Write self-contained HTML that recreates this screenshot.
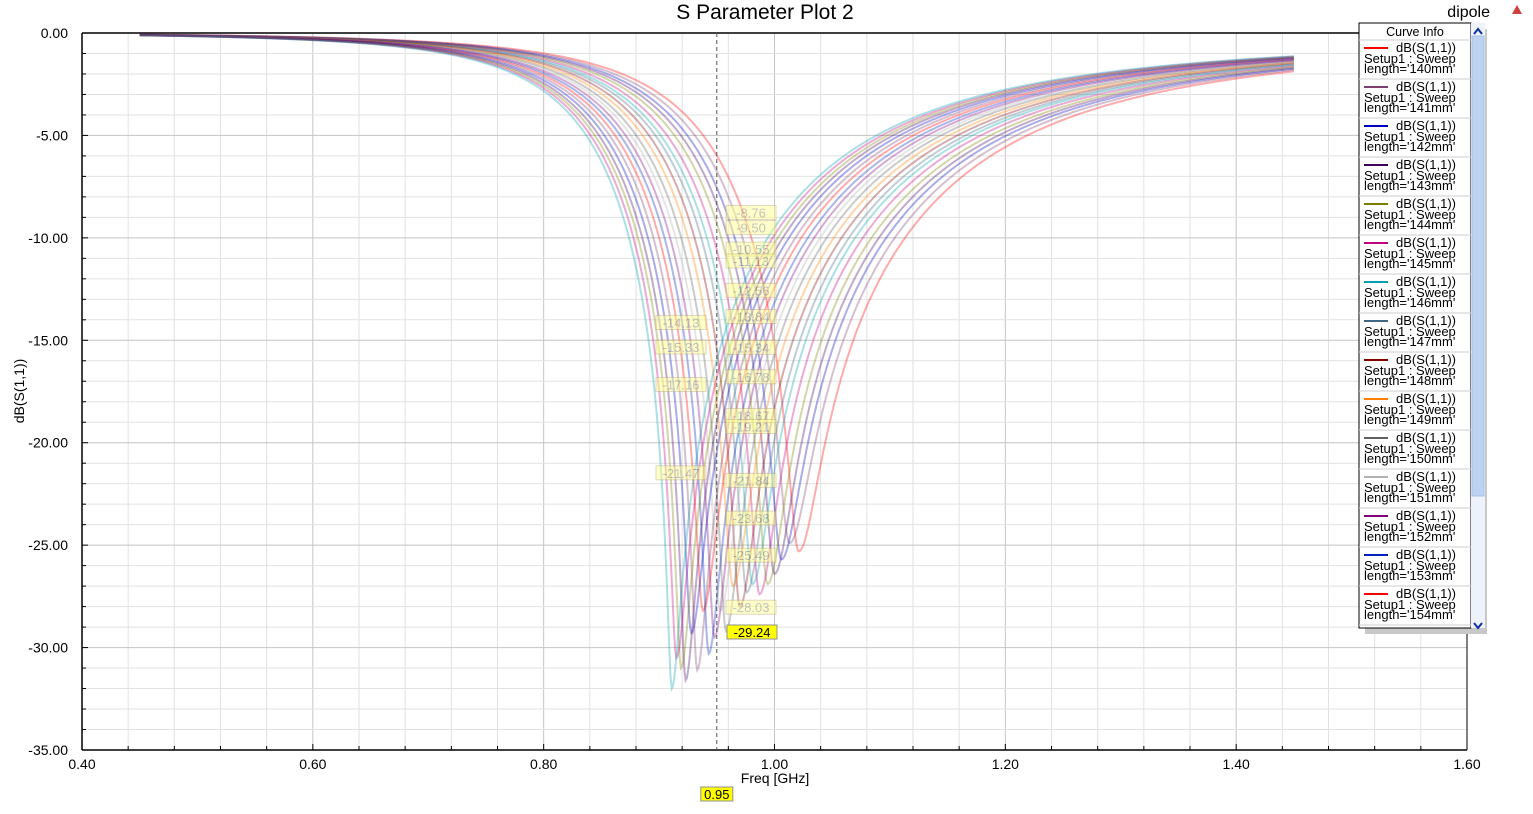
<!DOCTYPE html>
<html><head><meta charset="utf-8">
<style>
html,body{margin:0;padding:0;background:#fff;}
body{width:1533px;height:809px;overflow:hidden;font-family:"Liberation Sans",Arial,sans-serif;}
svg text{font-family:"Liberation Sans",Arial,sans-serif;}
</style></head>
<body>
<svg id="chart" width="1533" height="809" xmlns="http://www.w3.org/2000/svg">
<g id="grid"></g>
<g id="axes"></g>
<g id="curves"></g>
<g id="markers"></g>
<g id="legend"></g>
</svg>
<script>
// ---- data ----
const lengths = [140,141,142,143,144,145,146,147,148,149,150,151,152,153,154,155,156,157,158,159,160];
const resFreq = [1.021,1.013,1.006,1.000,0.994,0.987,0.981,0.976,0.970,0.964,0.958,0.953,0.948,0.943,0.938,0.933,0.928,0.923,0.919,0.915,0.911];
const minDb   = [-25.3,-24.9,-25.7,-26.4,-26.9,-27.4,-26.9,-27.3,-28.0,-27.0,-29.2,-28.2,-29.5,-30.3,-28.2,-31.1,-29.3,-31.6,-31.0,-30.5,-32.0];
const curveColors = ["#ff0000","#7f3f6f","#0000c0","#400060","#808000","#c00080","#00a0b0","#406880","#800000","#ff8000","#606060","#b0b0b0","#800080","#0020c0","#ff0000","#7f3f6f","#0000c0","#400060","#808000","#c00080","#00a0b0"];
const xTicks = [0.40,0.60,0.80,1.00,1.20,1.40,1.60];
const yTicks = [0,-5,-10,-15,-20,-25,-30,-35];
const markerRight = [-8.76,-9.50,-10.55,-11.13,-12.56,-13.84,-15.34,-16.78,-18.67,-19.21,-21.84,-23.68,-25.49,-28.03];
const markerLeft = [-14.13,-15.33,-17.16,-21.47];
const activeMarker = -29.24;
const markerFreq = 0.95;
const legendLengths = [140,141,142,143,144,145,146,147,148,149,150,151,152,153,154];

// ---- axes ----
const X0=82,X1=1467,Y0=33,Y1=750;
const xs = f => X0 + (f-0.4)/(1.2)*(X1-X0);
const ys = v => Y0 + (-v)/35*(Y1-Y0);
const NS="http://www.w3.org/2000/svg";
function mk(tag, attrs, parent){const e=document.createElementNS(NS,tag);for(const k in attrs)e.setAttribute(k,attrs[k]);parent.appendChild(e);return e;}
const grid=document.getElementById('grid'), axes=document.getElementById('axes');

for(let i=0;i<=30;i++){const f=0.4+i*0.04;const x=xs(f);const major=i%5===0;
 const l=mk('line',{x1:x,x2:x,y1:Y0,y2:Y1,stroke:major?'#c4c4c4':'#e2e2e2','stroke-width':1},grid);
 
 
 mk('line',{x1:x,x2:x,y1:Y1,y2:Y1-(major?6:4),stroke:'#000'},axes);}
for(let i=0;i<=35;i++){const y=ys(-i);const major=i%5===0;
 const l=mk('line',{x1:X0,x2:X1,y1:y,y2:y,stroke:major?'#c4c4c4':'#e2e2e2','stroke-width':1},grid);
 
 
 mk('line',{x1:X0,x2:X0+(major?6:4),y1:y,y2:y,stroke:'#000'},axes);}
mk('line',{x1:X0,x2:X1,y1:Y0,y2:Y0,stroke:'#000','stroke-width':1.5},axes);
mk('line',{x1:X0,x2:X1,y1:Y1,y2:Y1,stroke:'#000','stroke-width':1.5},axes);
mk('line',{x1:X0,x2:X0,y1:Y0,y2:Y1,stroke:'#000','stroke-width':1.5},axes);
mk('line',{x1:X1,x2:X1,y1:Y0,y2:Y1,stroke:'#000','stroke-width':1},axes);
xTicks.forEach(f=>{const t=mk('text',{x:xs(f),y:769,'text-anchor':'middle','font-size':14},axes);t.textContent=f.toFixed(2);
 
 });
yTicks.forEach(v=>{const t=mk('text',{x:68,y:ys(v)+5,'text-anchor':'end','font-size':14},axes);t.textContent=v.toFixed(2);
 
 });
let t=mk('text',{x:775,y:783,'text-anchor':'middle','font-size':14},axes);t.textContent='Freq [GHz]';


t=mk('text',{x:24,y:391,'text-anchor':'middle','font-size':14,transform:'rotate(-90 24 391)'},axes);t.textContent='dB(S(1,1))';


t=mk('text',{x:765,y:19,'text-anchor':'middle','font-size':21},axes);t.textContent='S Parameter Plot 2';


t=mk('text',{x:1490,y:17,'text-anchor':'end','font-size':16},axes);t.textContent='dipole';


mk('path',{d:'M1512 14 L1517 5 L1522 14 Z',fill:'#d04040'},axes);

// ---- curves ----
const cg=document.getElementById('curves');
function s11(f,f0,m){const Q=f<f0?4.0:1.9;const d=f/f0-f0/f;const g2=1-(1-Math.pow(10,m/10))/(1+Q*Q*d*d);return 10*Math.log10(g2);}
lengths.forEach((L,i)=>{let d='';for(let k=0;k<=1000;k++){const f=0.45+k*0.001;const v=s11(f,resFreq[i],minDb[i]);d+=(k?'L':'M')+xs(f).toFixed(1)+' '+ys(v).toFixed(1);}
 const p=mk('path',{d:d,fill:'none',stroke:curveColors[i],'stroke-width':2,'stroke-opacity':0.33},cg);
 
 });

// ---- markers ----
const mg=document.getElementById('markers');
const xm=xs(markerFreq);
const vl=mk('line',{x1:xm,x2:xm,y1:Y0,y2:Y1,stroke:'#555','stroke-dasharray':'4 3'},mg);


function label(x,y,txt,active){const g=mk('g',{opacity:active?1:0.5},mg);
 
 
 mk('rect',{x:x,y:y-7,width:50,height:14,fill:active?'#ffff00':'#ffff90',stroke:active?'#909090':'#c0b080'},g);
 const tt=mk('text',{x:x+25,y:y+5,'text-anchor':'middle','font-size':13,fill:active?'#000':'#888'},g);tt.textContent=txt;}
markerRight.forEach(v=>label(726,ys(v),v.toFixed(2),false));
markerLeft.forEach(v=>label(656,ys(v),v.toFixed(2),false));
label(727,ys(activeMarker),activeMarker.toFixed(2),true);
const fr=mk('rect',{x:xm-16,y:787,width:32,height:14,fill:'#ffff00',stroke:'#909090'},mg);


t=mk('text',{x:xm,y:799,'text-anchor':'middle','font-size':13},mg);t.textContent=markerFreq.toFixed(2);



// ---- legend ----
const lg=document.getElementById('legend');
mk('rect',{x:1365,y:29,width:122,height:605,fill:'#c8c8c8'},lg);
mk('rect',{x:1359,y:23,width:112,height:605,fill:'#fff',stroke:'#000'},lg);
mk('rect',{x:1471,y:23,width:14,height:605,fill:'#eef2fa'},lg);
const thumb=mk('rect',{x:1472,y:36,width:12,height:460,fill:'#bcd2f0',stroke:'#a8c0e8'},lg);


mk('path',{d:'M1474 34 L1478 29 L1482 34',fill:'none',stroke:'#1030a0','stroke-width':2},lg);
mk('path',{d:'M1474 623 L1478 628 L1482 623',fill:'none',stroke:'#1030a0','stroke-width':2},lg);
t=mk('text',{x:1415,y:36,'text-anchor':'middle','font-size':12.5},lg);t.textContent='Curve Info';


mk('line',{x1:1359,x2:1471,y1:40,y2:40,stroke:'#ccc'},lg);
legendLengths.forEach((L,i)=>{const y=40+i*39;const g=mk('g',{},lg);
 
 
 mk('line',{x1:1364,x2:1388,y1:y+8,y2:y+8,stroke:curveColors[i],'stroke-width':2},g);
 let a=mk('text',{x:1456,y:y+12,'text-anchor':'end','font-size':13},g);a.textContent='dB(S(1,1))';
 a=mk('text',{x:1364,y:y+23,'font-size':13},g);a.textContent='Setup1 : Sweep';
 a=mk('text',{x:1364,y:y+33,'font-size':13},g);a.textContent="length='"+L+"mm'";
 mk('line',{x1:1359,x2:1471,y1:y+39,y2:y+39,stroke:'#ccc'},g);});
</script>
</body></html>
